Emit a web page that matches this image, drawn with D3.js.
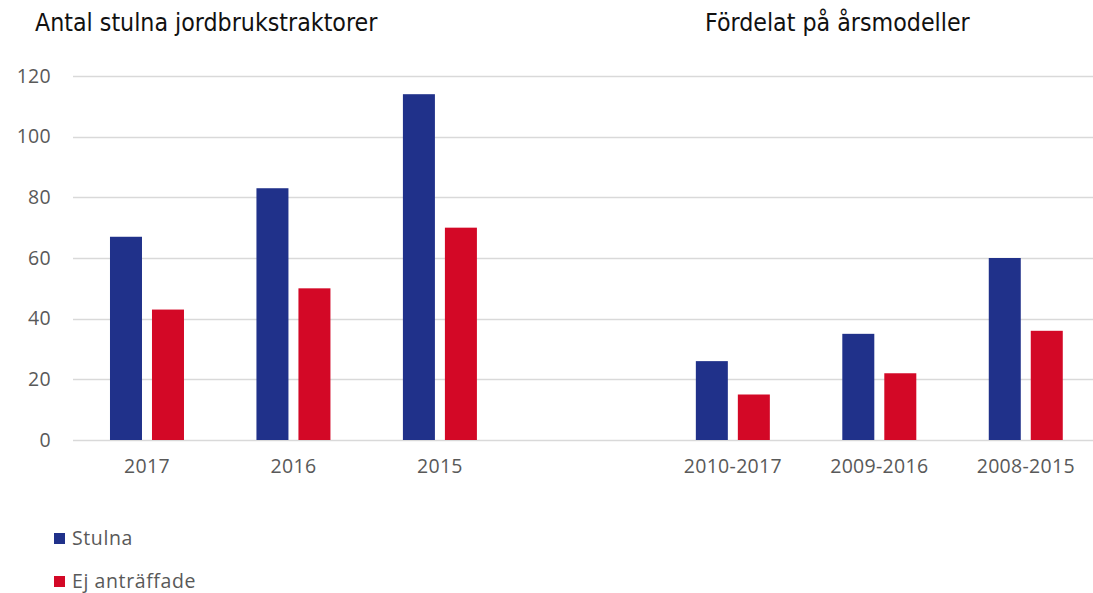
<!DOCTYPE html>
<html>
<head>
<meta charset="utf-8">
<script src="https://cdn.jsdelivr.net/npm/d3@7"></script>
<style>
  body { margin: 0; background: #fff; }
  .title { font-family: "Liberation Sans Narrow", "DejaVu Sans Condensed", sans-serif; font-size: 24.7px; fill: #111; }
  .tick text { font-family: "Open Sans", sans-serif; font-size: 19.5px; letter-spacing: 0.3px; fill: #595959; }
  .legend text { font-family: "Open Sans", sans-serif; font-size: 19.5px; letter-spacing: 0.6px; fill: #595959; }
</style>
</head>
<body>
<div id="chart"></div>
<script>
// data
var categories = ['2017', '2016', '2015', '', '2010-2017', '2009-2016', '2008-2015'];
var stulna = [67, 83, 114, null, 26, 35, 60];
var ejAntraffade = [43, 50, 70, null, 15, 22, 36];
var series_names = ['Stulna', 'Ej anträffade'];
var y_ticks = [0, 20, 40, 60, 80, 100, 120];
var titles = ['Antal stulna jordbrukstraktorer', 'Fördelat på årsmodeller'];

var chart_width = 1093;
var chart_height = 593;
var colors = ['#20318A', '#D30826'];

var svg = d3.select('#chart')
  .append('svg')
  .attr('width', chart_width)
  .attr('height', chart_height);

// scales
var x_scale = d3.scaleBand()
  .domain(d3.range(categories.length))
  .range([73.75, 1099]);

var x_inner = d3.scaleBand()
  .domain([0, 1])
  .range([0, 74])
  .paddingInner(0.238);

var y_scale = d3.scaleLinear()
  .domain([0, 120])
  .range([440, 76]);

// grid lines
svg.append('g')
  .selectAll('line')
  .data(y_ticks)
  .enter()
  .append('line')
  .attr('x1', 73)
  .attr('x2', chart_width)
  .attr('y1', function(d) { return Math.round(y_scale(d)) + 0.5; })
  .attr('y2', function(d) { return Math.round(y_scale(d)) + 0.5; })
  .attr('stroke', '#d9d9d9')
  .attr('stroke-width', 1.3);

// y axis
var y_axis = d3.axisLeft(y_scale)
  .tickValues(y_ticks)
  .tickSize(0)
  .tickPadding(0);
svg.append('g')
  .attr('class', 'y-axis')
  .attr('transform', 'translate(51,0)')
  .call(y_axis)
  .call(function(g) { g.select('.domain').remove(); });

// x axis
var x_axis = d3.axisBottom(x_scale)
  .tickFormat(function(i) { return categories[i]; })
  .tickSize(0)
  .tickPadding(19);
svg.append('g')
  .attr('class', 'x-axis')
  .attr('transform', 'translate(0,440)')
  .call(x_axis)
  .call(function(g) { g.select('.domain').remove(); });

// bars
var rows = categories.map(function(c, i) {
  return [stulna[i], ejAntraffade[i]];
});

svg.append('g')
  .selectAll('g')
  .data(rows)
  .enter()
  .append('g')
  .attr('transform', function(d, i) {
    return 'translate(' + (x_scale(i) + (x_scale.bandwidth() - 74) / 2) + ',0)';
  })
  .selectAll('rect')
  .data(function(d) { return d.filter(function(v) { return v != null; }).length ? d : []; })
  .enter()
  .append('rect')
  .attr('x', function(d, j) { return x_inner(j); })
  .attr('width', x_inner.bandwidth())
  .attr('y', function(d) { return y_scale(d); })
  .attr('height', function(d) { return y_scale(0) - y_scale(d); })
  .attr('fill', function(d, j) { return colors[j]; });

// titles
svg.selectAll('.title')
  .data(titles)
  .enter()
  .append('text')
  .attr('class', 'title')
  .attr('x', function(d, i) { return i === 0 ? 35 : 705; })
  .attr('y', 31)
  .text(function(d) { return d; });

// legend
var legend = svg.append('g')
  .attr('class', 'legend')
  .selectAll('g')
  .data(series_names)
  .enter()
  .append('g')
  .attr('transform', function(d, i) { return 'translate(54,' + (533 + i * 43) + ')'; });

legend.append('rect')
  .attr('width', 11)
  .attr('height', 11)
  .attr('fill', function(d, i) { return colors[i]; });

legend.append('text')
  .attr('x', 18)
  .attr('y', 12)
  .text(function(d) { return d; });
</script>
</body>
</html>
